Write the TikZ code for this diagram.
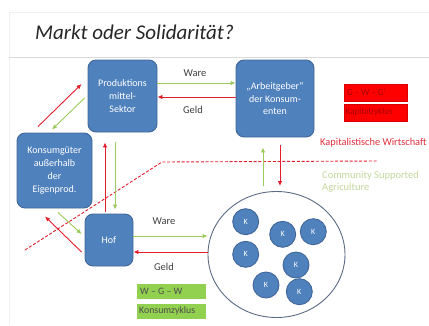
\documentclass[tikz,border=0pt]{standalone}
\usepackage{fontspec}
\setmainfont{Carlito}
\usetikzlibrary{arrows.meta,calc,shapes.geometric}
\definecolor{boxblue}{HTML}{4F81BD}
\definecolor{boxborder}{HTML}{41679A}
\definecolor{arred}{HTML}{E41E2B}
\definecolor{argreen}{HTML}{9BCB5C}
\definecolor{lblgray}{HTML}{404040}
\definecolor{capred}{HTML}{FF0000}
\definecolor{captext}{HTML}{A80000}
\definecolor{csagreen}{HTML}{C4D89C}
\definecolor{kwred}{HTML}{E2303F}
\definecolor{konsgreen}{HTML}{92D050}
\definecolor{circline}{HTML}{5B6B85}
\tikzset{
  bluebox/.style={draw=boxborder, line width=0.9pt, fill=boxblue, rounded corners=8pt,
    text=white, font=\fontsize{10}{12.8}\selectfont, align=center, inner sep=1pt},
  kcirc/.style={circle, draw=boxborder, line width=0.9pt, fill=boxblue, minimum size=26pt,
    inner sep=0pt, text=white, font=\fontsize{8}{8}\selectfont},
  garrow/.style={draw=argreen, line width=0.9pt, -{Latex[length=5pt,width=4.5pt]}},
  rarrow/.style={draw=arred, line width=0.9pt, -{Latex[length=5pt,width=4.5pt]}},
  flowlbl/.style={text=lblgray, font=\fontsize{10.5}{12}\selectfont},
  redtag/.style={fill=capred, draw=capred!85!black, line width=0.3pt, minimum width=63pt, minimum height=17pt,
    inner sep=0pt},
  greentag/.style={fill=konsgreen, draw=white, line width=0.3pt, minimum width=70pt, minimum height=16pt,
    inner sep=0pt},
  redtagtxt/.style={anchor=west, text=captext, font=\fontsize{9}{10}\selectfont, inner sep=0pt},
  greentagtxt/.style={anchor=west, text=black!70, font=\fontsize{9.8}{10}\selectfont, inner sep=0pt}
}
\begin{document}
\begin{tikzpicture}[x=1pt,y=-1pt]
\clip (0,0) rectangle (429,325);
\fill[white] (0,0) rectangle (429,325);
% slide frame
\draw[gray!12, line width=0.6pt] (9,12) -- (429,12);
\draw[gray!12, line width=0.6pt] (9,12) -- (9,325);
\draw[gray!30, line width=1.5pt] (9,57.5) -- (429,57.5);
% title
\node[anchor=west, text=black!85, font=\fontsize{21}{23}\selectfont\itshape, inner sep=0pt] (title) at (35,32) {Markt oder Solidarität?};

% main boxes
\node[bluebox, minimum width=69pt, minimum height=72pt] (prod) at (122.5,96) {Produktions\\mittel-\\Sektor};
\node[bluebox, minimum width=75pt, minimum height=75pt] (kons) at (54.5,170.5) {Konsumgüter\\außerhalb\\der\\Eigenprod.};
\node[bluebox, minimum width=78pt, minimum height=77pt] (arb) at (275,98.5) {„Arbeitgeber“\\der Konsum-\\enten};
\node[bluebox, minimum width=48pt, minimum height=52pt] (hof) at (109,240) {Hof};

% community circle
\node[ellipse, draw=circline, line width=0.9pt, minimum width=137pt, minimum height=126pt] (comm) at (276.5,254.5) {};
\node[kcirc] (k1) at (245.7,221.7) {K};
\node[kcirc] (k2) at (282.7,234.3) {K};
\node[kcirc] (k3) at (313.3,231.7) {K};
\node[kcirc] (k4) at (245.7,254.3) {K};
\node[kcirc] (k5) at (296,265) {K};
\node[kcirc] (k6) at (266,285) {K};
\node[kcirc] (k7) at (299.3,291.7) {K};

% dashed boundary
\draw[arred, line width=0.9pt, dash pattern=on 3pt off 1.8pt] (25,250) -- (162,162) -- (377,161);

% prod <-> arb
\draw[garrow] ($(prod.east)+(0,-13)$) -- ($(arb.west)+(0,-15.5)$);
\draw[rarrow] ($(arb.west)+(0,-1.5)$) -- ($(prod.east)+(0,1)$);
\node[flowlbl] (ware1) at (195,73) {Ware};
\node[flowlbl] (geld1) at (193,110) {Geld};

% prod <-> kons
\draw[rarrow] ($(kons.north)+(-16.5,-6)$) -- ($(prod.west)+(-6,-12)$);
\draw[garrow] ($(prod.west)+(-3,2)$) -- ($(kons.north)+(-2.5,-3)$);

% prod <-> hof
\draw[rarrow] ($(hof.north)+(-4,-2)$) -- ($(prod.south)+(-17.5,10)$);
\draw[garrow] ($(prod.south)+(-7.5,10)$) -- ($(hof.north)+(6,-4)$);

% kons <-> hof
\draw[garrow] ($(kons.south)+(3.5,4)$) -- ($(hof.west)+(-3,-6)$);
\draw[rarrow] ($(hof.west)+(-3,12)$) -- ($(kons.south)+(-9.5,8)$);

% hof <-> community
\draw[garrow] ($(hof.east)+(0,-4)$) -- ($(comm.west)+(0,-18.5)$);
\draw[rarrow] ($(comm.west)+(0,-2.5)$) -- ($(hof.east)+(0,12)$);
\node[flowlbl] (ware2) at (164,221) {Ware};
\node[flowlbl] (geld2) at (164,267) {Geld};

% arb <-> community
\draw[garrow] ($(comm.north)+(-13.5,-5)$) -- ($(arb.south)+(-12,10)$);
\draw[rarrow] ($(arb.south)+(5,8)$) -- ($(comm.north)+(3.5,-5)$);

% tags
\node[redtag] (gwg) at (375.5,92.5) {};
\node[redtagtxt] (gwgt) at (347,92.5) {G – W – G'};
\node[redtag] (kz) at (375.5,112.5) {};
\node[redtagtxt] (kzt) at (345.5,112.5) {Kapitalzyklus};
\node[greentag] (wgw) at (171,291) {};
\node[greentagtxt] (wgwt) at (140,291) {W – G – W};
\node[greentag] (konz) at (171,311) {};
\node[greentagtxt] (konzt) at (139,311) {Konsumzyklus};

% region labels
\node[anchor=west, text=kwred, font=\fontsize{10.4}{12}\selectfont, inner sep=0pt] (kw) at (320,143) {Kapitalistische Wirtschaft};
\node[anchor=north west, text=csagreen, align=left, font=\fontsize{10.5}{12.5}\selectfont, inner sep=0pt] (csa) at (322,171) {Community Supported\\Agriculture};
\end{tikzpicture}
\end{document}
